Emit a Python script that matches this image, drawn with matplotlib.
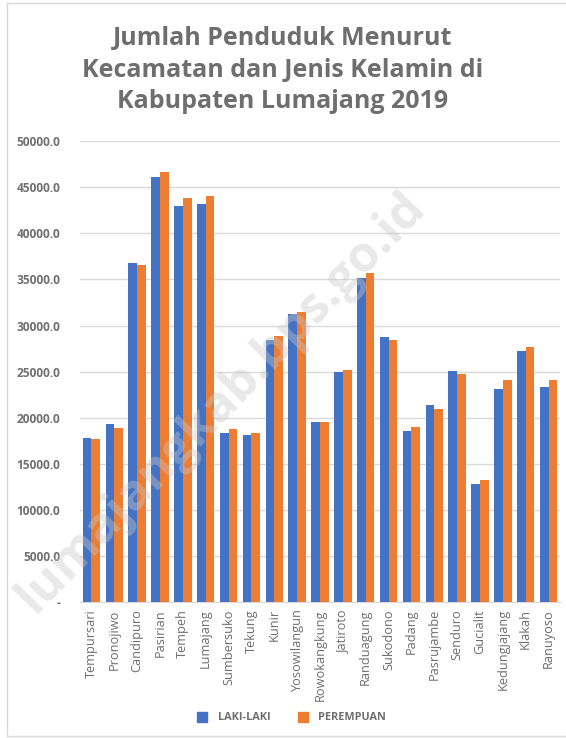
import matplotlib
matplotlib.use("Agg")
import matplotlib.pyplot as plt
import numpy as np
from matplotlib.lines import Line2D

categories = ["Tempursari", "Pronojiwo", "Candipuro", "Pasirian", "Tempeh", "Lumajang",
              "Sumbersuko", "Tekung", "Kunir", "Yosowilangun", "Rowokangkung", "Jatiroto",
              "Randuagung", "Sukodono", "Padang", "Pasrujambe", "Senduro", "Gucialit",
              "Kedungjajang", "Klakah", "Ranuyoso"]
laki = [17780, 19330, 36740, 46100, 42950, 43170, 18350, 18130, 28430, 31250, 19540,
        24960, 35150, 28750, 18570, 21380, 25070, 12820, 23120, 27240, 23340]
perempuan = [17670, 18860, 36530, 46640, 43820, 44040, 18780, 18350, 28860, 31470, 19540,
             25200, 35700, 28430, 19000, 20950, 24750, 13250, 24090, 27670, 24090]
yticks = [0, 5000, 10000, 15000, 20000, 25000, 30000, 35000, 40000, 45000, 50000]
ytick_labels = ["-", "5000.0", "10000.0", "15000.0", "20000.0", "25000.0", "30000.0",
                "35000.0", "40000.0", "45000.0", "50000.0"]
series_names = ["LAKI-LAKI", "PEREMPUAN"]
title = "Jumlah Penduduk Menurut\nKecamatan dan Jenis Kelamin di\nKabupaten Lumajang 2019"

plt.rcParams['font.family'] = ['Open Sans', 'DejaVu Sans']
gray = "#6e6e6e"
tgray = "#707070"
blue = "#4472C4"
orange = "#ED7D31"

fig = plt.figure(figsize=(5.66, 7.38), dpi=100)
ax = fig.add_axes([80/566, 1-602.3/738, 480/566, (602.3-141)/738])

x = np.arange(len(categories))
w = 0.38
ax.bar(x - w/2, laki, width=w, color=blue, zorder=3, label=series_names[0])
ax.bar(x + w/2, perempuan, width=w, color=orange, zorder=3, label=series_names[1])

ax.set_xlim(-0.5, len(categories) - 0.5)
ax.set_ylim(0, 50000)
ax.set_yticks(yticks)
ax.set_yticklabels(ytick_labels, fontsize=8.6, fontweight='bold', color=tgray)
ax.set_xticks(x)
ax.set_xticklabels(categories, rotation=90, fontsize=9.2, color=gray)
ax.tick_params(axis='x', length=0, pad=5)
ax.tick_params(axis='y', length=0, pad=14)
ax.grid(axis='y', color='#d9d9d9', linewidth=1, zorder=0)
for s in ['left', 'right', 'top']:
    ax.spines[s].set_visible(False)
ax.spines['bottom'].set_color('#d9d9d9')

fig.text(0.5, 1-70/738, title, ha='center', va='center', fontsize=18, fontweight='bold',
         color=gray, linespacing=1.36)

handles = [Line2D([0], [0], marker='s', linestyle='', markersize=6.5, color=blue),
           Line2D([0], [0], marker='s', linestyle='', markersize=6.5, color=orange)]
fig.legend(handles, series_names, loc='center', bbox_to_anchor=(0.51, 1-718/738), ncol=2,
           frameon=False, prop={'size': 7.8, 'weight': 'bold'}, labelcolor=gray,
           handletextpad=0.4, columnspacing=2.0)

# watermark
fig.text(0.39, 0.455, "lumajangkab.bps.go.id", ha='center', va='center', rotation=46,
         fontsize=36, fontweight='bold', color='#c8c8c8', alpha=0.4)

# light border of chart area
border = '#d9d9d9'
fig.add_artist(Line2D([7/566, 7/566], [1-3/738, 1-736/738], color=border, lw=1))
fig.add_artist(Line2D([7/566, 1], [1-3/738, 1-3/738], color=border, lw=1))
fig.add_artist(Line2D([7/566, 1], [1-736/738, 1-736/738], color=border, lw=1))

fig.savefig("out.png", dpi=100)
